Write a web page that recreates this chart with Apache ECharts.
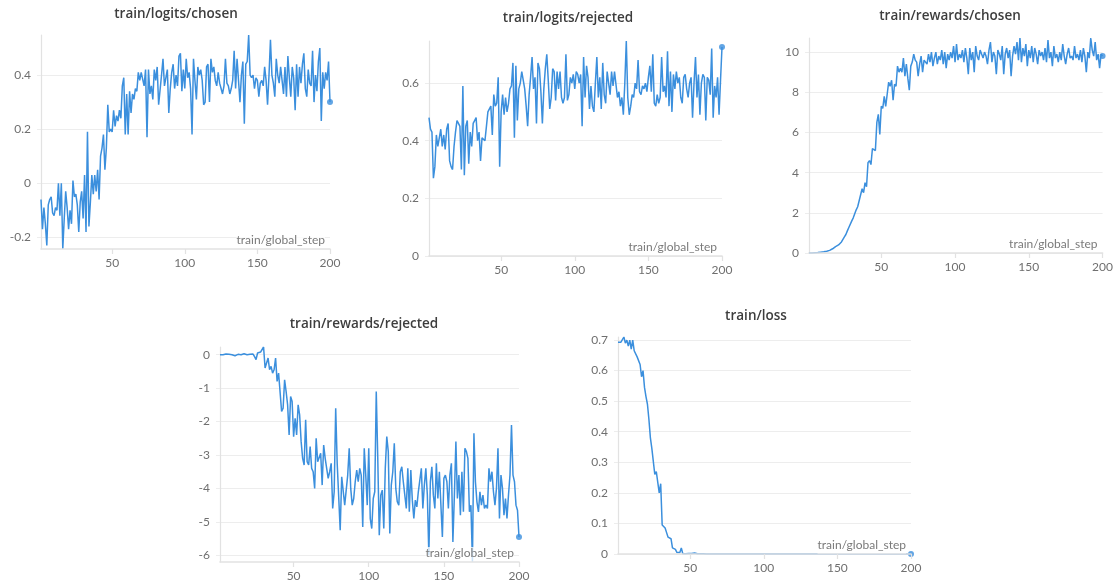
<!DOCTYPE html>
<html>
<head>
<meta charset="utf-8">
<script src="https://cdn.jsdelivr.net/npm/echarts@6/dist/echarts.min.js"></script>
<style>
html,body{margin:0;padding:0;background:#fff;}
#chart{width:1116px;height:586px;}
</style>
</head>
<body>
<div id="chart"></div>
<script>
// ---- data ----
const panelTitles = ['train/logits/chosen', 'train/logits/rejected', 'train/rewards/chosen', 'train/rewards/rejected', 'train/loss'];
const xAxisName = 'train/global_step';
const xTickValues = [50, 100, 150, 200];

const logitsChosen = [
-0.06,-0.17,-0.09,-0.15,-0.23,-0.08,-0.06,-0.05,-0.11,-0.12,
-0.09,-0.10,-0.00,-0.12,-0.00,-0.243,-0.13,-0.03,-0.09,-0.17,
-0.10,-0.15,0.01,-0.05,-0.04,-0.08,-0.18,-0.07,-0.03,-0.13,
0.03,-0.18,0.19,-0.16,-0.07,0.03,-0.04,0.03,-0.03,0.05,
-0.06,0.10,0.13,0.18,0.05,0.13,0.29,0.19,0.20,0.19,
0.27,0.21,0.25,0.23,0.27,0.24,0.36,0.39,0.18,0.33,
0.18,0.34,0.26,0.33,0.31,0.35,0.34,0.41,0.38,0.41,
0.41,0.36,0.42,0.17,0.42,0.33,0.36,0.31,0.42,0.38,
0.43,0.29,0.29,0.40,0.46,0.36,0.36,0.42,0.26,0.35,
0.41,0.44,0.35,0.40,0.36,0.47,0.48,0.34,0.42,0.35,
0.46,0.39,0.41,0.35,0.18,0.46,0.38,0.31,0.43,0.40,
0.42,0.38,0.29,0.30,0.43,0.44,0.30,0.46,0.41,0.43,
0.38,0.36,0.41,0.37,0.35,0.33,0.36,0.46,0.37,0.36,
0.33,0.35,0.38,0.49,0.35,0.46,0.38,0.30,0.40,0.45,
0.22,0.44,0.45,0.548,0.40,0.39,0.40,0.35,0.39,0.38,
0.32,0.37,0.38,0.36,0.43,0.38,0.29,0.40,0.53,0.40,
0.37,0.32,0.46,0.40,0.37,0.43,0.38,0.33,0.43,0.32,
0.47,0.39,0.32,0.43,0.39,0.27,0.44,0.32,0.43,0.37,
0.44,0.48,0.35,0.32,0.42,0.37,0.36,0.49,0.30,0.40,
0.34,0.45,0.50,0.23,0.41,0.35,0.41,0.38,0.45,0.30];

const logitsRejected = [
0.48,0.44,0.43,0.27,0.31,0.42,0.38,0.41,0.44,0.38,
0.42,0.37,0.44,0.46,0.33,0.31,0.30,0.38,0.43,0.47,
0.46,0.45,0.30,0.59,0.28,0.45,0.47,0.32,0.43,0.38,
0.46,0.47,0.48,0.40,0.43,0.33,0.41,0.41,0.40,0.45,
0.50,0.50,0.52,0.42,0.56,0.52,0.53,0.62,0.31,0.50,
0.56,0.49,0.55,0.50,0.53,0.58,0.59,0.67,0.41,0.66,
0.47,0.58,0.60,0.64,0.61,0.58,0.52,0.45,0.56,0.62,
0.69,0.58,0.62,0.46,0.67,0.65,0.57,0.46,0.58,0.65,
0.70,0.61,0.51,0.55,0.65,0.64,0.54,0.64,0.58,0.64,
0.55,0.53,0.55,0.70,0.54,0.56,0.62,0.60,0.63,0.58,
0.64,0.63,0.60,0.63,0.45,0.69,0.55,0.66,0.62,0.51,
0.59,0.52,0.50,0.60,0.69,0.55,0.62,0.51,0.67,0.56,
0.53,0.64,0.60,0.56,0.64,0.59,0.64,0.64,0.55,0.57,
0.52,0.55,0.49,0.60,0.746,0.55,0.49,0.52,0.56,0.55,
0.60,0.58,0.68,0.57,0.56,0.59,0.58,0.60,0.57,0.62,
0.66,0.57,0.70,0.53,0.52,0.56,0.53,0.55,0.69,0.57,
0.59,0.55,0.71,0.52,0.64,0.50,0.63,0.58,0.64,0.60,
0.62,0.55,0.53,0.62,0.63,0.58,0.55,0.60,0.62,0.48,
0.60,0.69,0.55,0.63,0.49,0.60,0.63,0.62,0.47,0.62,
0.61,0.56,0.72,0.48,0.59,0.55,0.62,0.49,0.61,0.725];

const rewardsChosen = [
0.00,0.00,0.00,0.00,0.01,0.02,0.02,0.03,0.04,0.05,
0.06,0.08,0.09,0.11,0.13,0.17,0.21,0.26,0.32,0.36,
0.40,0.45,0.55,0.68,0.80,0.92,1.10,1.27,1.35,1.60,
1.75,1.95,2.15,2.30,2.60,2.55,3.20,3.00,3.50,3.30,
4.50,4.60,4.40,5.20,5.25,5.10,6.50,6.90,5.90,7.30,
7.20,7.80,7.30,7.90,8.50,8.30,8.60,7.60,8.40,8.30,
9.30,9.00,9.20,9.00,9.70,8.80,9.40,8.70,8.10,9.30,
9.50,9.90,9.60,9.50,8.80,9.40,9.80,9.00,9.60,9.50,
9.40,9.90,9.50,10.0,9.30,9.70,10.0,9.40,9.80,9.60,
10.1,9.40,10.0,9.20,9.90,9.60,10.0,9.70,10.3,9.50,
10.4,9.60,9.90,9.70,10.1,9.50,10.2,9.70,8.90,10.2,
9.60,10.0,9.00,10.3,9.80,9.60,10.1,9.90,9.70,10.0,
9.80,9.40,10.1,10.5,9.50,10.0,9.80,8.90,10.1,9.90,
9.60,10.3,8.90,9.90,10.2,9.70,10.1,8.80,9.80,10.3,
9.90,10.5,9.60,10.7,9.50,10.2,9.80,10.4,9.30,10.1,
9.70,10.3,9.50,10.2,9.90,9.40,10.1,9.80,10.0,9.60,
10.2,9.50,10.6,9.70,10.0,9.30,10.3,9.70,9.90,9.50,
10.0,9.60,10.4,9.80,9.40,9.90,10.2,9.70,9.80,9.60,
10.3,9.70,9.90,9.60,10.1,9.50,10.2,9.80,9.00,10.0,
9.70,10.7,10.1,9.80,10.5,9.60,9.90,9.20,9.90,9.80];

const rewardsRejected = [
0.00,0.01,0.00,-0.01,0.02,0.00,0.01,-0.01,0.00,0.01,
-0.03,0.00,0.01,0.02,0.00,-0.01,0.03,0.02,0.00,-0.02,
0.01,-0.03,0.02,-0.06,-0.15,0.05,0.06,0.08,0.05,0.23,
-0.40,-0.38,-0.10,-0.45,-0.35,-0.55,-0.45,-0.10,-0.80,-0.55,
-0.60,-1.70,-1.60,-0.75,-1.10,-1.50,-2.40,-1.25,-1.40,-2.45,
-1.90,-2.40,-1.50,-1.80,-2.60,-3.10,-3.30,-1.95,-3.20,-3.30,
-2.75,-3.40,-3.50,-4.00,-2.50,-3.20,-3.20,-2.95,-3.90,-2.70,
-3.10,-3.40,-3.70,-3.50,-3.25,-4.60,-4.10,-1.60,-3.25,-3.30,
-5.25,-3.65,-3.60,-4.50,-4.55,-3.60,-2.80,-4.00,-4.50,-4.30,
-3.80,-3.45,-3.80,-3.40,-3.60,-5.15,-2.80,-3.60,-4.50,-2.80,
-4.90,-5.20,-4.30,-4.10,-1.10,-3.10,-5.40,-4.20,-4.05,-5.20,
-3.40,-2.45,-2.90,-5.35,-3.90,-3.50,-2.65,-4.00,-4.40,-4.50,
-3.50,-3.35,-3.80,-4.20,-4.60,-3.40,-4.70,-3.45,-4.35,-4.90,
-4.35,-4.55,-4.10,-4.05,-3.40,-4.60,-3.90,-3.40,-4.20,-6.00,
-3.80,-3.35,-4.20,-4.60,-3.25,-4.30,-3.50,-3.50,-5.45,-3.70,
-3.60,-3.80,-4.60,-3.60,-3.25,-5.60,-4.20,-2.60,-4.30,-3.60,
-4.80,-3.50,-4.70,-2.80,-2.90,-3.10,-4.70,-4.50,-6.20,-2.35,
-3.80,-4.40,-4.70,-4.10,-4.50,-4.20,-4.60,-4.50,-4.60,-3.40,
-3.80,-3.50,-4.10,-4.50,-4.00,-2.80,-4.90,-3.60,-4.00,-4.80,
-4.30,-4.90,-4.20,-3.60,-2.10,-3.60,-3.80,-4.50,-4.65,-5.45];

const lossValues = [
0.693,0.692,0.693,0.697,0.710,0.690,0.700,0.680,0.700,0.670,
0.700,0.665,0.660,0.645,0.650,0.620,0.580,0.600,0.545,0.515,
0.490,0.440,0.380,0.345,0.345,0.260,0.270,0.275,0.200,0.230,
0.095,0.090,0.085,0.070,0.055,0.060,0.050,0.020,0.020,0.015,
0.005,0.002,0.005,0.020,0.001,0.003,0.001,0.005,0.002,0.006,
0.002,0.001,0.003,0.001,0.001,0.001,0.0005,0.001,0.0005,0.0005,
0.0004,0.0005,0.0003,0.0004,0.0003,0.0004,0.0003,0.0002,0.0003,0.0002,
0.0003,0.0002,0.0002,0.0003,0.0002,0.0002,0.0002,0.0001,0.0002,0.0002,
0.0001,0.0002,0.0001,0.0001,0.0002,0.0001,0.0001,0.0001,0.0001,0.0001,
0.0001,0.0001,0.0001,0.0001,0.0001,0.0001,0.0001,0.0001,0.0001,0.0001,
0.0001,0.0001,0.0001,0.0001,0.0001,0.0001,0.0001,0.0001,0.0001,0.0001,
0.0001,0.0001,0.0001,0.0001,0.0001,0.0001,0.0001,0.0001,0.0001,0.0001,
0.0001,0.0001,0.0001,0.0001,0.0001,0.0001,0.0001,0.0001,0.0001,0.0001,
0.0001,0.0001,0.0001,0.0001,0.0001,0.0001,0.0001,0.0001,0.0001,0.0001,
0.0001,0.0001,0.0001,0.0001,0.0001,0.0001,0.0001,0.0001,0.0001,0.0001,
0.0001,0.0001,0.0001,0.0001,0.0001,0.0001,0.0001,0.0001,0.0001,0.0001,
0.0001,0.0001,0.0001,0.0001,0.0001,0.0001,0.0001,0.0001,0.0001,0.0001,
0.0001,0.0001,0.0001,0.0001,0.0001,0.0001,0.0001,0.0001,0.0001,0.0001,
0.0001,0.0001,0.0001,0.0001,0.0001,0.0001,0.0001,0.0001,0.0001,0.0001,
0.0001,0.0001,0.0001,0.0001,0.0001,0.0001,0.0001,0.0001,0.0001,0.0001];

const yTicksLogitsChosen = [-0.2, 0, 0.2, 0.4];
const yTicksLogitsRejected = [0, 0.2, 0.4, 0.6];
const yTicksRewardsChosen = [0, 2, 4, 6, 8, 10];
const yTicksRewardsRejected = [-6, -5, -4, -3, -2, -1, 0];
const yTicksLoss = [0, 0.1, 0.2, 0.3, 0.4, 0.5, 0.6, 0.7];

const steps = logitsChosen.map((_, i) => i + 1);

// ---- layout (pixels) ----
const FONT = 'Lato, "Noto Sans", sans-serif';
const TITLE_FONT = '"Open Sans", Lato, sans-serif';
const LINE = '#3b8fdd';
const GRID_C = '#ededed';
const AXIS_C = '#e2e2e2';
const LABEL_C = '#6f6f6f';

const panels = [
  { values: logitsChosen,    yTicks: yTicksLogitsChosen,    yMin: 'dataMin', yMax: 'dataMax', grid: {left: 41,  top: 35,  width: 289, height: 214}, title: [176, 7] },
  { values: logitsRejected,  yTicks: yTicksLogitsRejected,  yMin: 0,         yMax: 'dataMax', grid: {left: 429, top: 41,  width: 293, height: 215}, title: [568, 11] },
  { values: rewardsChosen,   yTicks: yTicksRewardsChosen,   yMin: 0,         yMax: 'dataMax', grid: {left: 809, top: 38,  width: 296, height: 215}, title: [950, 9] },
  { values: rewardsRejected, yTicks: yTicksRewardsRejected, yMin: 'dataMin', yMax: 'dataMax', grid: {left: 220, top: 347, width: 299, height: 215}, title: [364, 317] },
  { values: lossValues,      yTicks: yTicksLoss,            yMin: 0,         yMax: 'dataMax', grid: {left: 618, top: 337, width: 293, height: 217}, title: [756, 309] }
];

const option = {
  animation: false,
  backgroundColor: '#ffffff',
  title: panels.map((p, i) => ({
    text: panelTitles[i],
    left: p.title[0],
    top: p.title[1],
    textAlign: 'center',
    padding: 0,
    textStyle: { fontFamily: TITLE_FONT, fontSize: 13.5, fontWeight: 600, color: '#3d3d3d' }
  })),
  grid: panels.map(p => Object.assign({ containLabel: false }, p.grid)),
  xAxis: panels.map((p, i) => ({
    type: 'value', gridIndex: i, min: 1, max: 200, z: 3,
    name: xAxisName, nameLocation: 'end', nameGap: -5,
    nameTextStyle: { fontFamily: FONT, fontSize: 12, color: '#7a7a7a', align: 'right', verticalAlign: 'bottom', padding: [0, 0, 3, 0], backgroundColor: 'rgba(255,255,255,0.75)' },
    axisLine: { show: true, onZero: false, lineStyle: { color: AXIS_C, width: 1.6 } },
    axisTick: { show: true, length: 5, customValues: xTickValues, lineStyle: { color: AXIS_C, width: 1.2 } },
    axisLabel: { customValues: xTickValues, fontFamily: FONT, fontSize: 12, color: LABEL_C, margin: 8 },
    splitLine: { show: false }
  })),
  yAxis: panels.map((p, i) => ({
    type: 'value', gridIndex: i, min: p.yMin, max: p.yMax,
    axisLine: { show: true, lineStyle: { color: AXIS_C, width: 1.2 } },
    axisTick: { show: true, length: 4, customValues: p.yTicks, lineStyle: { color: GRID_C } },
    axisLabel: { customValues: p.yTicks, fontFamily: FONT, fontSize: 12, color: LABEL_C, margin: 10 },
    splitLine: { show: true, lineStyle: { color: GRID_C, width: 1 } }
  })),
  series: []
};

panels.forEach((p, i) => {
  const data = p.values.map((v, k) => [steps[k], v]);
  option.series.push({
    type: 'line', xAxisIndex: i, yAxisIndex: i, data: data,
    showSymbol: false, symbol: 'none', z: 2,
    lineStyle: { color: LINE, width: 1.5 }, itemStyle: { color: LINE }
  });
  option.series.push({
    type: 'scatter', xAxisIndex: i, yAxisIndex: i, data: [data[data.length - 1]],
    symbolSize: 6, z: 2, itemStyle: { color: LINE }
  });
});

const chart = echarts.init(document.getElementById('chart'), null, { renderer: 'canvas' });
chart.setOption(option);
</script>
</body>
</html>
